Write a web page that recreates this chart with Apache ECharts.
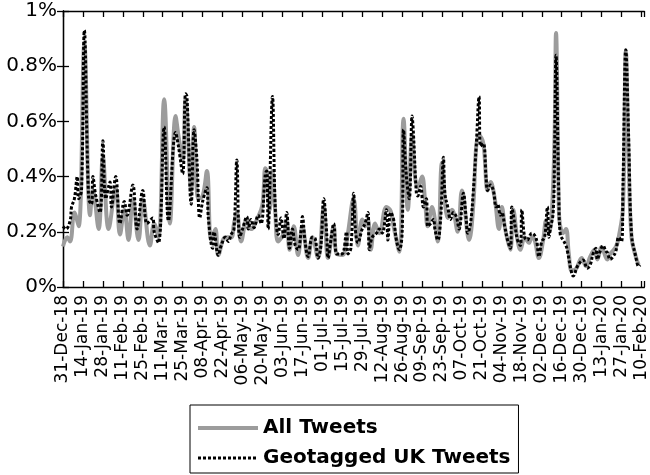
<!DOCTYPE html>
<html>
<head>
<meta charset="utf-8">
<script src="https://cdn.jsdelivr.net/npm/echarts@6/dist/echarts.min.js"></script>
<style>html,body{margin:0;padding:0;background:#fff;}#c{width:650px;height:475px;}</style>
</head>
<body>
<div id="c"></div>
<script>
// Tick labels every 14 days starting 31-Dec-18 (day 0)
var tickLabels = ['31-Dec-18','14-Jan-19','28-Jan-19','11-Feb-19','25-Feb-19','11-Mar-19','25-Mar-19','08-Apr-19','22-Apr-19','06-May-19','20-May-19','03-Jun-19','17-Jun-19','01-Jul-19','15-Jul-19','29-Jul-19','12-Aug-19','26-Aug-19','09-Sep-19','23-Sep-19','07-Oct-19','21-Oct-19','04-Nov-19','18-Nov-19','02-Dec-19','16-Dec-19','30-Dec-19','13-Jan-20','27-Jan-20','10-Feb-20'];
var seriesNames = ['All Tweets', 'Geotagged UK Tweets'];

// All Tweets (% of tweets), read at day offsets from 31-Dec-18
var allDays = [0,3,5,8,11,15,19,21,25,28,32,37,40,43,46,49,53,56,61,64,67,71,75,79,81,84,86,90,92,95,98,101,104,107,109,114,118,120,122,125,129,132,137,140,142,143,145,147,149,151,155,157,159,162,165,168,172,175,179,183,186,190,192,196,199,204,207,210,212,214,216,219,222,227,230,232,236,239,242,245,247,249,252,254,256,259,263,266,270,273,277,280,285,288,290,292,295,298,300,303,306,308,310,312,314,316,319,321,324,327,329,331,334,337,339,341,343,345,346,348,349,351,353,355,357,360,364,367,370,373,375,378,382,384,388,390,393,395,397,399,402,404];
var allVals = [0.147,0.18,0.165,0.27,0.22,0.88,0.26,0.35,0.21,0.47,0.21,0.36,0.19,0.28,0.17,0.32,0.17,0.32,0.15,0.23,0.18,0.68,0.23,0.62,0.55,0.46,0.68,0.35,0.58,0.32,0.33,0.42,0.17,0.21,0.115,0.18,0.18,0.23,0.27,0.165,0.245,0.21,0.255,0.30,0.43,0.42,0.28,0.42,0.27,0.165,0.195,0.24,0.135,0.22,0.116,0.22,0.105,0.18,0.105,0.29,0.105,0.22,0.12,0.116,0.165,0.32,0.15,0.245,0.22,0.245,0.135,0.23,0.195,0.29,0.275,0.22,0.128,0.61,0.28,0.55,0.40,0.36,0.40,0.32,0.22,0.29,0.165,0.45,0.25,0.28,0.20,0.35,0.17,0.30,0.51,0.55,0.52,0.35,0.38,0.32,0.21,0.29,0.22,0.17,0.135,0.28,0.17,0.135,0.18,0.16,0.18,0.17,0.105,0.17,0.24,0.195,0.26,0.55,0.92,0.28,0.22,0.195,0.21,0.12,0.06,0.065,0.105,0.075,0.11,0.135,0.10,0.145,0.10,0.12,0.145,0.18,0.29,0.855,0.46,0.18,0.11,0.08];

// Geotagged UK Tweets (% of tweets)
var geoDays = [0,2,5,6,8,10,11,13,15,18,20,21,23,26,28,30,33,34,37,40,43,45,49,52,56,59,63,64,67,71,74,79,81,84,86,87,90,92,94,96,98,101,102,105,106,109,111,114,116,118,120,122,124,126,129,130,132,134,137,139,142,143,144,147,149,151,153,155,157,159,161,163,165,167,168,170,172,175,177,179,181,183,185,186,188,190,192,194,196,199,200,202,204,205,207,210,212,214,215,217,220,222,224,227,228,230,232,234,236,238,239,241,243,245,246,248,249,251,253,255,256,258,260,261,263,265,267,268,270,272,274,276,278,281,283,284,286,288,290,292,293,295,297,298,300,302,304,305,307,308,310,312,314,315,317,319,321,322,324,326,327,329,332,334,336,338,340,341,342,344,345,346,348,349,351,353,354,357,358,361,363,365,368,370,372,374,375,377,379,381,382,384,386,388,390,392,393,395,397,399,402,404,405];
var geoVals = [0.22,0.21,0.24,0.29,0.32,0.40,0.32,0.35,0.93,0.32,0.30,0.40,0.33,0.27,0.53,0.32,0.38,0.29,0.40,0.23,0.31,0.26,0.37,0.21,0.35,0.23,0.25,0.20,0.16,0.58,0.24,0.56,0.51,0.41,0.70,0.69,0.30,0.57,0.46,0.25,0.31,0.36,0.25,0.14,0.20,0.115,0.15,0.18,0.165,0.19,0.21,0.46,0.18,0.21,0.255,0.21,0.245,0.215,0.26,0.23,0.41,0.42,0.21,0.69,0.28,0.19,0.25,0.175,0.27,0.14,0.21,0.15,0.135,0.20,0.255,0.16,0.11,0.18,0.175,0.105,0.15,0.32,0.20,0.105,0.17,0.23,0.12,0.12,0.12,0.20,0.12,0.14,0.34,0.22,0.16,0.21,0.23,0.27,0.135,0.18,0.195,0.21,0.195,0.28,0.17,0.27,0.245,0.17,0.135,0.195,0.57,0.40,0.32,0.62,0.55,0.34,0.33,0.365,0.29,0.32,0.22,0.23,0.245,0.21,0.17,0.245,0.47,0.34,0.29,0.245,0.27,0.255,0.21,0.34,0.245,0.195,0.23,0.35,0.51,0.69,0.51,0.52,0.39,0.35,0.37,0.35,0.29,0.30,0.26,0.27,0.22,0.17,0.14,0.29,0.23,0.17,0.15,0.28,0.18,0.17,0.18,0.195,0.177,0.11,0.165,0.18,0.29,0.18,0.21,0.27,0.49,0.84,0.32,0.19,0.17,0.15,0.13,0.05,0.04,0.075,0.09,0.098,0.068,0.08,0.12,0.14,0.10,0.13,0.15,0.13,0.125,0.10,0.11,0.13,0.18,0.165,0.365,0.86,0.54,0.19,0.11,0.075,0.08];

function pairs(d, v) { return d.map(function (x, i) { return [x, v[i]]; }); }

var font = 'DejaVu Sans';
var grayLine = {color: '#9c9c9c', width: 4};
var dotLine = {color: '#000', width: 3, type: [3, 2], cap: 'butt'};
var chart = echarts.init(document.getElementById('c'), null, {renderer: 'canvas'});
var xCommon = {
  type: 'value', min: 0, max: 408, interval: 14,
  splitLine: {show: false},
  axisLine: {show: true, onZero: false, lineStyle: {color: '#000', width: 1.3}},
  axisTick: {show: true, inside: true, length: 6, lineStyle: {color: '#000', width: 1.3}}
};
var yCommon = {
  type: 'value', min: 0, max: 1, interval: 0.2,
  splitLine: {show: false},
  axisLine: {show: true, lineStyle: {color: '#000', width: 1.3}},
  axisTick: {show: true, inside: true, length: 6, lineStyle: {color: '#000', width: 1.3}}
};
chart.setOption({
  animation: false,
  backgroundColor: '#fff',
  grid: {left: 63, right: 4, top: 11, bottom: 188, containLabel: false},
  xAxis: [
    Object.assign({}, xCommon, {
      position: 'bottom',
      axisLabel: {
        rotate: 90, margin: 8, fontFamily: font, fontSize: 17, color: '#000',
        showMaxLabel: true, showMinLabel: true,
        formatter: function (v) {
          var i = Math.round(v / 14);
          return (Math.abs(v - i * 14) < 1e-6 && i < tickLabels.length) ? tickLabels[i] : '';
        }
      }
    }),
    Object.assign({}, xCommon, {position: 'top', axisLabel: {show: false}})
  ],
  yAxis: [
    Object.assign({}, yCommon, {
      position: 'left',
      axisLabel: {
        fontFamily: font, fontSize: 20, color: '#000', margin: 6,
        formatter: function (v) {
          if (Math.abs(v) < 1e-9) return '0%';
          if (Math.abs(v - 1) < 1e-9) return '1%';
          return v.toFixed(1) + '%';
        }
      }
    }),
    Object.assign({}, yCommon, {position: 'right', axisLabel: {show: false}})
  ],
  legend: {
    orient: 'vertical', left: 190, top: 405, height: 60,
    padding: [12, 8, 4, 6],
    itemWidth: 60, itemHeight: 14, itemGap: 8,
    borderColor: '#000', borderWidth: 1,
    itemStyle: {opacity: 0, borderWidth: 0},
    textStyle: {fontFamily: font, fontSize: 20, fontWeight: 'bold', color: '#000', lineHeight: 22},
    data: [
      {name: seriesNames[0], lineStyle: grayLine},
      {name: seriesNames[1], lineStyle: dotLine}
    ]
  },
  series: [
    {
      name: seriesNames[0], type: 'line', xAxisIndex: 0, yAxisIndex: 0,
      data: pairs(allDays, allVals), smooth: 0.4, symbol: 'none',
      lineStyle: grayLine, itemStyle: {color: '#9c9c9c'}
    },
    {
      name: seriesNames[1], type: 'line', xAxisIndex: 0, yAxisIndex: 0,
      data: pairs(geoDays, geoVals), smooth: 0.4, symbol: 'none',
      lineStyle: dotLine, itemStyle: {color: '#000'}
    }
  ]
});
</script>
</body>
</html>
